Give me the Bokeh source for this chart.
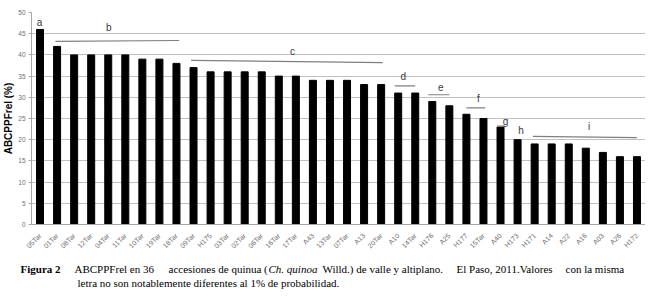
import math
from bokeh.plotting import figure
from bokeh.layouts import column
from bokeh.models import FactorRange, Range1d, ColumnDataSource
from bokeh.core.properties import value
from bokeh.embed import file_html
from bokeh.resources import INLINE

# ---- data ----
accessions = ["05Tar", "01Tar", "08Tar", "12Tar", "04Tar", "11Tar", "10Tar", "19Tar",
              "18Tar", "09Tar", "H175", "03Tar", "02Tar", "06Tar", "16Tar", "17Tar",
              "A43", "13Tar", "07Tar", "A13", "20Tar", "A10", "14Tar", "H176", "A25",
              "H177", "15Tar", "A40", "H173", "H171", "A14", "A22", "A16", "A03",
              "A26", "H172"]
abcppf_rel = [46, 42, 40, 40, 40, 40, 39, 39, 38, 37, 36, 36, 36, 36, 35, 35, 34, 34,
              34, 33, 33, 31, 31, 29, 28, 26, 25, 23, 20, 19, 19, 19, 18, 17, 16, 16]
y_ticks = [0, 5, 10, 15, 20, 25, 30, 35, 40, 45, 50]

# significance groups (positions in category units along the axis)
group_line_x0 = [1.40, 9.36, 21.3, 23.26, 25.5, 27.3, 29.4]
group_line_x1 = [8.66, 20.6, 22.5, 24.5, 26.6, 27.7, 35.5]
group_line_y0 = [43.2, 38.7, 32.7, 30.6, 27.5, 23.2, 20.8]
group_line_y1 = [43.4, 38.2, 32.7, 30.6, 27.5, 23.2, 20.5]
group_letters = ["a", "b", "c", "d", "e", "f", "g", "h", "i"]
group_letter_x = [0.47, 4.53, 15.3, 21.8, 24.0, 26.2, 27.8, 28.7, 32.7]
group_letter_y = [47.7, 46.4, 40.8, 34.8, 32.5, 29.6, 24.3, 22.1, 23.1]

# caption pieces (justified first line split into runs)
caption_text = ["Figura 2", "ABCPPFrel en 36", "accesiones de quinua (", "Ch. quinoa",
                "Willd.) de valle y altiplano.", "El Paso, 2011.Valores", "con la misma",
                "letra no son notablemente diferentes al 1% de probabilidad."]
caption_style = ["bold", "normal", "normal", "italic", "normal", "normal", "normal", "normal"]
caption_x = [20, 74, 168, 268, 322, 456, 565, 77]
caption_y = [8, 8, 8, 8, 8, 8, 8, 22]

W = 645
p = figure(x_range=FactorRange(factors=accessions, range_padding=0),
           y_range=Range1d(0, 50), width=W, height=260,
           output_backend="svg", toolbar_location=None,
           min_border_left=0, min_border_right=0, min_border_top=12,
           min_border_bottom=36)
p.frame_align = False
p.outline_line_color = None
p.background_fill_color = "white"

src = ColumnDataSource(dict(x=accessions, top=abcppf_rel))
p.vbar(x="x", top="top", width=0.41, source=src, fill_color="black", line_color="black")

p.segment(x0=group_line_x0, y0=group_line_y0, x1=group_line_x1, y1=group_line_y1,
          line_color="#7f7f7f", line_width=1.2)
p.text(x=group_letter_x, y=group_letter_y, text=group_letters,
       text_font=value("Liberation Sans"), text_font_size="10px",
       text_color="#3a3a3a", text_align="center", text_baseline="middle")

# axes
p.xgrid.grid_line_color = None
p.ygrid.grid_line_color = "#c0c0c0"
p.ygrid.grid_line_width = 1
p.yaxis.ticker = y_ticks
p.yaxis.axis_label = "ABCPPFrel (%)"
p.yaxis.axis_label_text_font = "Liberation Sans"
p.yaxis.axis_label_text_font_style = "bold"
p.yaxis.axis_label_text_font_size = "10px"
p.yaxis.axis_label_text_color = "black"
p.yaxis.axis_label_standoff = 1
p.yaxis.major_label_text_font = "Liberation Sans"
p.yaxis.major_label_text_font_size = "6.5px"
p.yaxis.major_label_text_color = "#6e6e6e"
p.yaxis.major_label_standoff = 3
p.yaxis.major_tick_out = 3
p.yaxis.major_tick_in = 0
p.yaxis.minor_tick_line_color = None
p.yaxis.major_tick_line_color = "#a6a6a6"
p.yaxis.axis_line_color = "#a6a6a6"

p.xaxis.major_label_orientation = math.pi / 4
p.xaxis.major_label_text_font = "Liberation Sans"
p.xaxis.major_label_text_font_size = "7px"
p.xaxis.major_label_text_color = "#6e6e6e"
p.xaxis.major_label_standoff = 4
p.xaxis.major_tick_line_color = None
p.xaxis.axis_line_color = "#a6a6a6"

# caption figure
CH = 32
c = figure(x_range=Range1d(0, W), y_range=Range1d(CH, 0), width=W, height=CH,
           output_backend="svg", toolbar_location=None,
           x_axis_type=None, y_axis_type=None,
           min_border_left=0, min_border_right=0, min_border_top=0, min_border_bottom=0)
c.frame_align = False
c.grid.visible = False
c.outline_line_color = None
for t, s, x, y in zip(caption_text, caption_style, caption_x, caption_y):
    c.text(x=[x], y=[y], text=[t], text_font=value("Liberation Serif"),
           text_font_size="11px", text_font_style=s, text_color="black",
           text_baseline="middle", text_align="left")

layout = column(p, c, spacing=0)
open("out.html", "w").write(file_html(layout, INLINE))
